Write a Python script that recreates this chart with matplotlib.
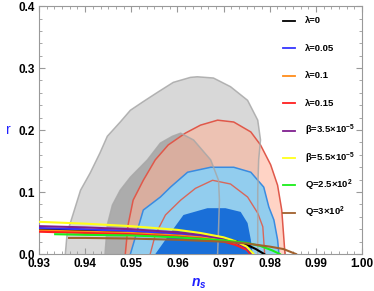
import matplotlib
matplotlib.use("Agg")
import matplotlib.pyplot as plt
from matplotlib.ticker import MultipleLocator

plt.rcParams["font.family"] = ["Liberation Sans", "DejaVu Sans"]
plt.rcParams["font.weight"] = "bold"
plt.rcParams["mathtext.fontset"] = "custom"
plt.rcParams["mathtext.rm"] = "Liberation Sans:bold"
plt.rcParams["mathtext.bf"] = "Liberation Sans:bold"
plt.rcParams["mathtext.it"] = "Liberation Sans:italic:bold"

gray68_ns = [0.9357, 0.9361, 0.9372, 0.9390, 0.9411, 0.9432, 0.9448, 0.9476, 0.9498, 0.9526,
             0.9557, 0.9591, 0.9628, 0.9643, 0.9678, 0.9715, 0.9752, 0.9774, 0.9780, 0.9776,
             0.9774, 0.9774, 0.9774]
gray68_r = [0.0, 0.034, 0.060, 0.103, 0.131, 0.163, 0.190, 0.213, 0.232, 0.246,
            0.261, 0.277, 0.285, 0.286, 0.284, 0.270, 0.248, 0.216, 0.184, 0.152,
            0.103, 0.055, 0.0]

gray95_ns = [0.9443, 0.9448, 0.9459, 0.9476, 0.9498, 0.9535, 0.9563, 0.9589, 0.9607, 0.9635,
             0.9672, 0.9689, 0.9691, 0.9689, 0.9687]
gray95_r = [0.0, 0.047, 0.079, 0.103, 0.124, 0.152, 0.179, 0.190, 0.195, 0.184,
            0.152, 0.119, 0.087, 0.039, 0.0]

red_out_ns = [0.9487, 0.9493, 0.9504, 0.9526, 0.9552, 0.9580, 0.9617, 0.9650, 0.9687, 0.9722,
              0.9759, 0.9780, 0.9802, 0.9817, 0.9826, 0.9830, 0.9833]
red_out_r = [0.0, 0.047, 0.087, 0.119, 0.152, 0.176, 0.195, 0.208, 0.216, 0.213,
             0.197, 0.176, 0.144, 0.111, 0.071, 0.031, 0.0]

red_in_ns = [0.9541, 0.9552, 0.9574, 0.9607, 0.9639, 0.9676, 0.9715, 0.9752, 0.9774, 0.9785, 0.9789]
red_in_r = [0.0, 0.031, 0.063, 0.087, 0.106, 0.119, 0.113, 0.092, 0.066, 0.044, 0.0]

blue_out_ns = [0.9498, 0.9526, 0.9563, 0.9585, 0.9622, 0.9672, 0.9722, 0.9759, 0.9787, 0.9798,
               0.9809, 0.9817, 0.9820]
blue_out_r = [0.0, 0.071, 0.092, 0.108, 0.132, 0.140, 0.140, 0.132, 0.108, 0.076,
              0.055, 0.023, 0.0]

blue_in_ns = [0.9552, 0.9574, 0.9613, 0.9665, 0.9704, 0.9737, 0.9752, 0.9759, 0.9763]
blue_in_r = [0.0, 0.023, 0.063, 0.074, 0.074, 0.068, 0.050, 0.023, 0.0]

# model predictions
labels = [r"λ=0", r"λ=0.05", r"λ=0.1", r"λ=0.15",
          r"β=3.5×10$^{-5}$", r"β=5.5×10$^{-5}$",
          r"Q=2.5×10$^{2}$", r"Q=3×10$^{2}$"]
colors = ["black", "#3535ff", "#ff8c1a", "#ff1f1f",
          "#7f1f8f", "#ffff1a", "#1aee1a", "#a0602d"]

lam0_ns = [0.93, 0.94, 0.95, 0.96, 0.965, 0.97, 0.9725, 0.975, 0.977, 0.9788]
lam0_r = [0.040, 0.038, 0.036, 0.032, 0.029, 0.025, 0.021, 0.015, 0.008, 0.0]
lam005_ns = [0.93, 0.94, 0.95, 0.96, 0.965, 0.97, 0.9725, 0.975, 0.976]
lam005_r = [0.042, 0.040, 0.037, 0.033, 0.029, 0.023, 0.018, 0.009, 0.0]
lam01_ns = [0.93, 0.94, 0.95, 0.96, 0.965, 0.97, 0.9725, 0.975, 0.976]
lam01_r = [0.038, 0.036, 0.034, 0.030, 0.027, 0.022, 0.017, 0.008, 0.0]
lam015_ns = [0.93, 0.94, 0.95, 0.96, 0.965, 0.97, 0.9725, 0.975, 0.9758]
lam015_r = [0.036, 0.034, 0.032, 0.028, 0.025, 0.020, 0.015, 0.007, 0.0]
beta35_ns = [0.93, 0.94, 0.95, 0.96, 0.965, 0.97, 0.9725, 0.975, 0.9762]
beta35_r = [0.045, 0.043, 0.040, 0.035, 0.031, 0.025, 0.019, 0.010, 0.0]
beta55_ns = [0.93, 0.94, 0.95, 0.96, 0.965, 0.97, 0.9725, 0.975, 0.9765]
beta55_r = [0.052, 0.049, 0.045, 0.039, 0.034, 0.027, 0.021, 0.012, 0.0]
q25_ns = [0.9335, 0.94, 0.95, 0.96, 0.97, 0.975, 0.978, 0.9805, 0.9822]
q25_r = [0.032, 0.031, 0.030, 0.027, 0.022, 0.018, 0.013, 0.006, 0.0]
q3_ns = [0.9365, 0.94, 0.95, 0.96, 0.97, 0.975, 0.98, 0.983, 0.985, 0.9857]
q3_r = [0.026, 0.026, 0.025, 0.023, 0.020, 0.017, 0.012, 0.008, 0.002, 0.0]

model_ns = [lam0_ns, lam005_ns, lam01_ns, lam015_ns, beta35_ns, beta55_ns, q25_ns, q3_ns]
model_r = [lam0_r, lam005_r, lam01_r, lam015_r, beta35_r, beta55_r, q25_r, q3_r]

fig = plt.figure(figsize=(3.74, 2.91), dpi=100)
ax = fig.add_axes([0.1043, 0.127, 0.8637, 0.852])

# filled regions
ax.fill(gray68_ns, gray68_r, color="#d8d8d8", lw=0, zorder=1)
ax.fill(gray95_ns, gray95_r, color="#acacac", lw=0, zorder=2)
ax.fill(red_out_ns, red_out_r, color="#ffb096", alpha=0.55, lw=0, zorder=3)
ax.plot(red_out_ns, red_out_r, color="#e0584a", lw=1.1, zorder=4)
ax.fill(blue_out_ns, blue_out_r, color="#92cdee", lw=0, zorder=5)
ax.plot(blue_out_ns, blue_out_r, color="#3a8be0", lw=1.1, zorder=6)
ax.fill(blue_in_ns, blue_in_r, color="#1a6fd8", lw=0, zorder=7)
ax.plot(red_in_ns, red_in_r, color="#d8675a", lw=1.0, zorder=8)
ax.plot(gray68_ns, gray68_r, color="#a8a8a8", lw=1.1, alpha=0.85, zorder=9)
ax.plot(gray95_ns, gray95_r, color="#a8a8a8", lw=1.1, alpha=0.85, zorder=9)

for xs, ys, c in zip(model_ns, model_r, colors):
    ax.plot(xs, ys, color=c, lw=1.5, zorder=10)

# legend drawn row by row so the rows stay evenly spaced
row_top, row_step = 0.94, 0.1105
for i, (c, lab) in enumerate(zip(colors, labels)):
    yy = row_top - i * row_step
    ax.plot([0.755, 0.793], [yy, yy], color=c, lw=1.3, transform=ax.transAxes,
            zorder=11, clip_on=False)
    ax.text(0.824, yy, lab, transform=ax.transAxes, fontsize=6.8, va="center",
            ha="left", zorder=11)

ax.set_xlim(0.93, 1.0)
ax.set_ylim(0.0, 0.4)
ax.xaxis.set_major_locator(MultipleLocator(0.01))
ax.xaxis.set_minor_locator(MultipleLocator(0.01 / 6))
ax.yaxis.set_major_locator(MultipleLocator(0.1))
ax.yaxis.set_minor_locator(MultipleLocator(0.02))
ax.xaxis.set_major_formatter(plt.FuncFormatter(lambda v, p: f"{v:.2f}"))
ax.yaxis.set_major_formatter(plt.FuncFormatter(lambda v, p: f"{v:.1f}"))
ax.tick_params(which="both", direction="in", top=True, right=True, color="#999999",
               labelsize=8.5)
ax.tick_params(which="major", length=4, width=0.8, pad=3)
ax.tick_params(which="minor", length=2, width=0.6)
for sp in ax.spines.values():
    sp.set_color("#999999")
    sp.set_linewidth(0.8)

ax.set_xlabel(r"$n_s$", color="#2020ff", fontsize=10)
ax.xaxis.set_label_coords(0.495, -0.09)
ax.set_ylabel("r", color="#2020ff", fontsize=10, rotation=0, va="center")
ax.yaxis.set_label_coords(-0.096, 0.5)

fig.savefig("out.png", dpi=100)
